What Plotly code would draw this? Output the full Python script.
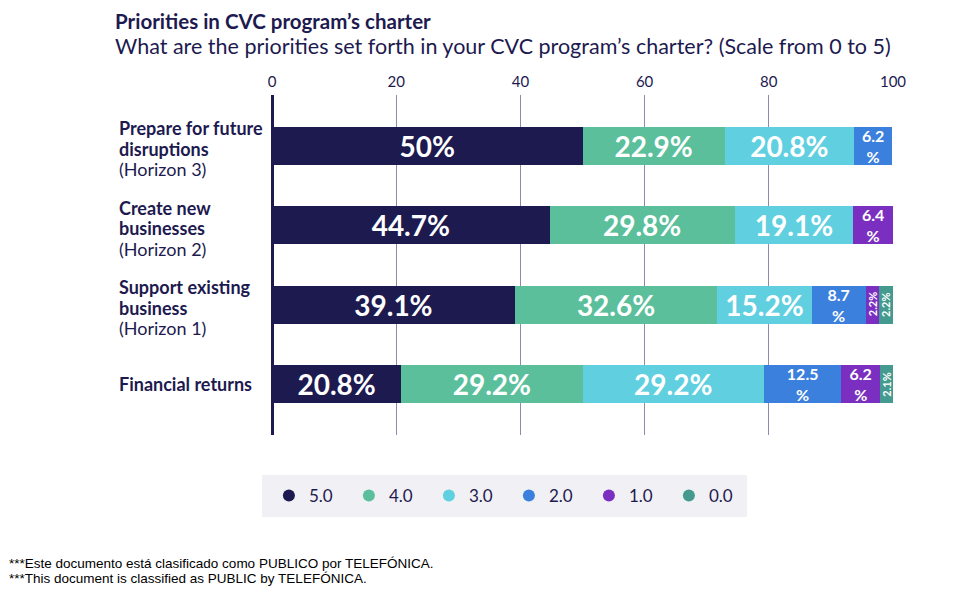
import plotly.graph_objects as go

categories = ["Prepare for future disruptions", "Create new businesses",
              "Support existing business", "Financial returns"]
cat_lines = [[("b", "Prepare for future"), ("b", "disruptions"), ("r", "(Horizon 3)")],
             [("b", "Create new"), ("b", "businesses"), ("r", "(Horizon 2)")],
             [("b", "Support existing"), ("b", "business"), ("r", "(Horizon 1)")],
             [("b", "Financial returns")]]
series_names = ["5.0", "4.0", "3.0", "2.0", "1.0", "0.0"]
s5 = [50.0, 44.7, 39.1, 20.8]
s4 = [22.9, 29.8, 32.6, 29.2]
s3 = [20.8, 19.1, 15.2, 29.2]
s2 = [6.2, 0.0, 8.7, 12.5]
s1 = [0.0, 6.4, 2.2, 6.2]
s0 = [0.0, 0.0, 2.2, 2.1]
series_values = [s5, s4, s3, s2, s1, s0]
colors = ["#1d1a4f", "#5bbf9c", "#60cfe0", "#3b80dc", "#7a2fc0", "#449a8e"]
tick_vals = [0, 20, 40, 60, 80, 100]

NAVY = "#1d1a4f"
FONT = "Lato"

fig = go.Figure()
annotations = []
ypos = list(range(len(categories)))
cum = [0.0] * len(categories)
for name, vals, col in zip(series_names, series_values, colors):
    texts, sizes = [], []
    for i, v in enumerate(vals):
        if v <= 0:
            texts.append(""); sizes.append(10)
        elif v < 4:
            texts.append("")
            sizes.append(10)
            annotations.append(dict(x=cum[i] + v / 2, y=ypos[i], xref="x", yref="y",
                                    text=f"<b>{v:g}%</b>", showarrow=False, textangle=-90,
                                    font=dict(family=FONT, size=11, color="white")))
        elif v < 14:
            texts.append(f"<b>{v:g}<br>%</b>"); sizes.append(16)
        else:
            texts.append(f"<b>{v:g}%</b>"); sizes.append(28)
    fig.add_trace(go.Bar(
        y=ypos, x=vals, orientation="h", name=name, marker_color=col,
        marker_line_width=0, text=texts, textposition="inside",
        insidetextanchor="middle", textangle=0, constraintext="none",
        textfont=dict(family=FONT, size=sizes, color="white"),
        showlegend=False, hoverinfo="skip"))
    cum = [c + v for c, v in zip(cum, vals)]
    fig.add_trace(go.Scatter(
        x=[None], y=[None], mode="markers", name=name,
        marker=dict(symbol="circle", size=15, color=col), showlegend=True))

for i, lines in enumerate(cat_lines):
    n = len(lines)
    for j, (style, txt) in enumerate(lines):
        shift = 0 if n == 1 else -((j - 1) * 20.5 + 3)
        annotations.append(dict(x=-0.2496, y=ypos[i], xref="paper", yref="y",
                                text=f"<b>{txt}</b>" if style == "b" else txt,
                                showarrow=False, xanchor="left", yanchor="middle", align="left",
                                yshift=shift, font=dict(family=FONT, size=18, color=NAVY)))

annotations += [
    dict(x=-0.254, y=1.2559, xref="paper", yref="paper", xanchor="left", yanchor="top",
         borderpad=0, text="<b>Priorities in CVC program’s charter</b>", showarrow=False,
         font=dict(family=FONT, size=20.5, color=NAVY)),
    dict(x=-0.254, y=1.1441, xref="paper", yref="paper", xanchor="left", yanchor="middle",
         borderpad=0,
         text="What are the priorities set forth in your CVC program’s charter? (Scale from 0 to 5)",
         showarrow=False, font=dict(family=FONT, size=21.5, color=NAVY)),
    dict(x=-0.4251, y=-0.3765, xref="paper", yref="paper", xanchor="left", yanchor="middle",
         borderpad=0,
         text="***Este documento está clasificado como PUBLICO por TELEFÓNICA.", showarrow=False,
         font=dict(family="Liberation Sans", size=13.5, color="black")),
    dict(x=-0.4251, y=-0.4206, xref="paper", yref="paper", xanchor="left", yanchor="middle",
         borderpad=0,
         text="***This document is classified as PUBLIC by TELEFÓNICA.", showarrow=False,
         font=dict(family="Liberation Sans", size=13.5, color="black")),
]

fig.update_layout(
    width=954, height=592, barmode="stack", bargap=0.52,
    margin=dict(l=264, r=69, t=87, b=165, autoexpand=False),
    paper_bgcolor="white", plot_bgcolor="white",
    font=dict(family=FONT, color=NAVY),
    annotations=annotations,
    shapes=[dict(type="rect", xref="paper", yref="paper", x0=-0.0161, x1=0.765,
                 y0=-0.1176, y1=-0.2412, fillcolor="#f1f0f5", line_width=0, layer="below")],
    legend=dict(orientation="h", x=-0.005, y=-0.179, xanchor="left", yanchor="middle",
                bgcolor="rgba(0,0,0,0)", font=dict(family=FONT, size=17, color=NAVY),
                entrywidth=35, entrywidthmode="pixels", itemsizing="constant",
                traceorder="normal", borderwidth=0, tracegroupgap=0),
    xaxis=dict(range=[0, 100], side="top", tickvals=tick_vals, showgrid=True,
               gridcolor="#8e8aab", gridwidth=1, zeroline=True, zerolinecolor=NAVY,
               zerolinewidth=3, ticks="", ticklabelstandoff=4,
               tickfont=dict(family=FONT, size=15, color=NAVY),
               showline=False, fixedrange=True),
    yaxis=dict(range=[3.64, -0.64], showticklabels=False, showgrid=False,
               zeroline=False, showline=False, fixedrange=True),
)

fig.write_html("out.html")
